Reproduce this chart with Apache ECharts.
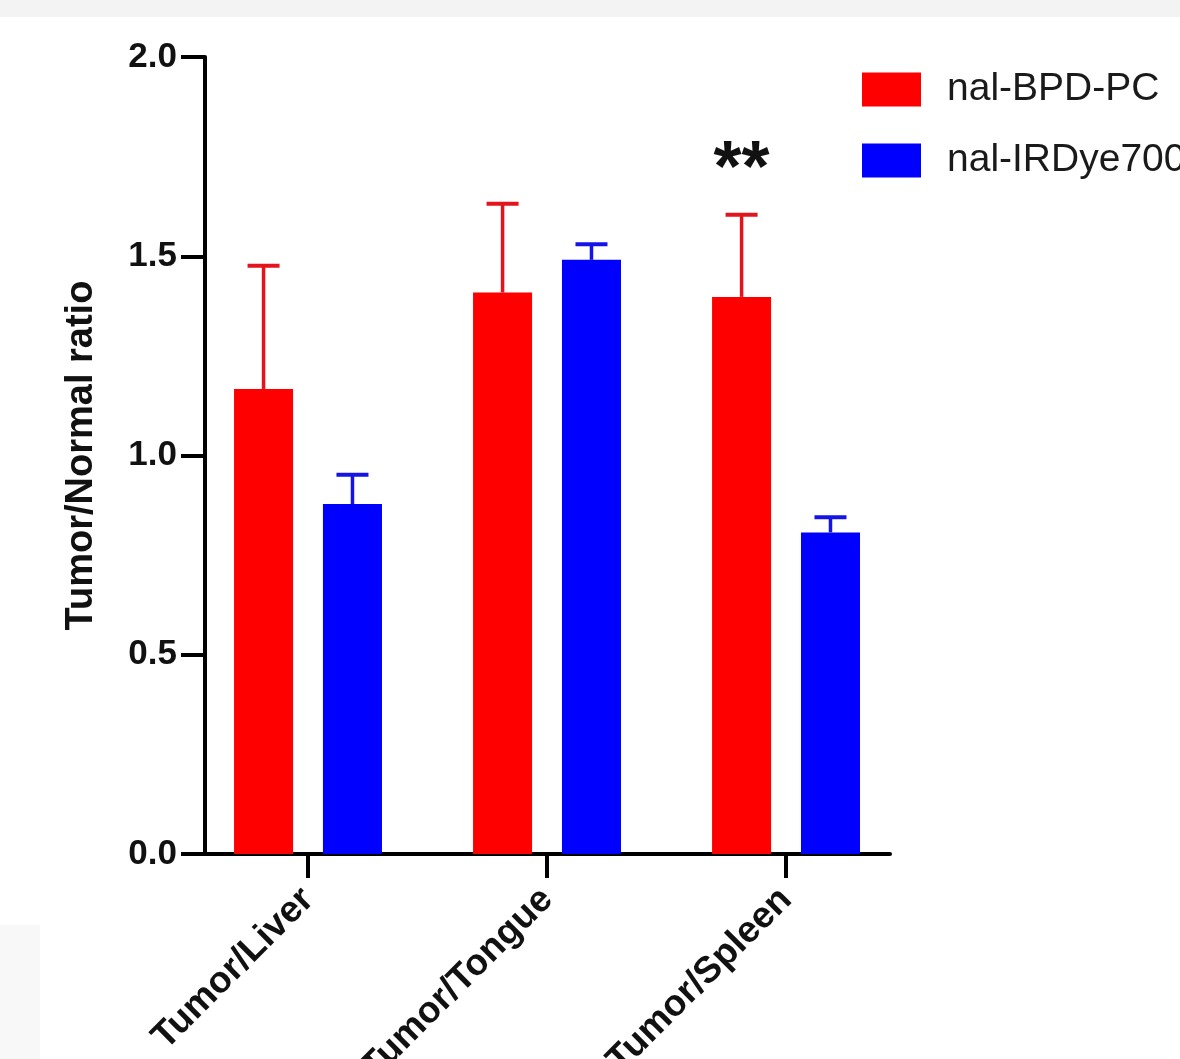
<!DOCTYPE html>
<html>
<head>
<meta charset="utf-8">
<script src="https://cdn.jsdelivr.net/npm/echarts@6/dist/echarts.min.js"></script>
<style>
  html, body { margin: 0; padding: 0; background: #ffffff; }
  #chart { width: 1180px; height: 1059px; }
</style>
</head>
<body>
<div id="chart"></div>
<script>
// ---- data ----
const categories = ['Tumor/Liver', 'Tumor/Tongue', 'Tumor/Spleen'];
const seriesNames = ['nal-BPD-PC', 'nal-IRDye700'];
const bpdValues = [1.167, 1.409, 1.398];
const bpdErrors = [0.309, 0.223, 0.206];
const irdValues = [0.878, 1.491, 0.807];
const irdErrors = [0.074, 0.039, 0.038];
const significance = ['', '', '**'];

// ---- style ----
const FONT = 'Arial, "Liberation Sans", Helvetica, sans-serif';
const RED = '#ff0000', BLUE = '#0000ff';
const RED_ERR = '#e3141c', BLUE_ERR = '#1414e6';
const BAR_W = 0.247;     // in category units
const BAR_OFF = 0.186;   // in category units

function buildData(vals, errs) {
  return vals.map((v, i) => [i + 1, v, errs[i], significance[i]]);
}

function makeRenderer(offset, fill, errColor, showSig) {
  return function (params, api) {
    const x = api.value(0), v = api.value(1), e = api.value(2);
    const unit = api.size([1, 0])[0];
    const base = api.coord([x, 0]);
    const top = api.coord([x, v]);
    const cap = api.coord([x, v + e]);
    const cx = base[0] + offset * unit;
    const bw = BAR_W * unit;
    const capHalf = 16;
    const children = [
      { type: 'rect', shape: { x: cx - bw / 2, y: top[1], width: bw, height: base[1] - top[1] },
        style: { fill: fill } },
      { type: 'line', shape: { x1: cx, y1: top[1], x2: cx, y2: cap[1] },
        style: { stroke: errColor, lineWidth: 3.5 } },
      { type: 'line', shape: { x1: cx - capHalf, y1: cap[1], x2: cx + capHalf, y2: cap[1] },
        style: { stroke: errColor, lineWidth: 4 } }
    ];
    const sig = showSig ? significance[params.dataIndex] : '';
    if (sig) {
      children.push({ type: 'text', x: cx, y: cap[1] - 44,
        style: { text: sig, fill: '#111', font: 'bold 72px ' + FONT, align: 'center', verticalAlign: 'middle' } });
    }
    return { type: 'group', children: children };
  };
}

const chart = echarts.init(document.getElementById('chart'), null, { renderer: 'canvas' });
chart.setOption({
  backgroundColor: '#ffffff',
  animation: false,
  graphic: [
    { type: 'rect', left: 0, top: 0, shape: { width: 1180, height: 17 }, style: { fill: '#f3f3f3' }, z: 0 },
    { type: 'rect', left: 0, top: 925, shape: { width: 40, height: 134 }, style: { fill: '#f8f8f8' }, z: 0 }
  ],
  legend: {
    orient: 'vertical', left: 862, top: 70, padding: 0,
    itemWidth: 59, itemHeight: 34, itemGap: 32, icon: 'rect',
    data: seriesNames,
    textStyle: { fontSize: 39, lineHeight: 34, color: '#1a1a1a', fontFamily: FONT, padding: [0, 0, 0, 21] }
  },
  grid: { left: 205, top: 57, width: 685, height: 797, containLabel: false, outerBoundsMode: 'none' },
  xAxis: {
    type: 'value', min: 0.569, max: 3.435,
    axisLine: { show: true, lineStyle: { color: '#000', width: 4 } },
    axisTick: { show: true, customValues: [1, 2, 3], length: 24, lineStyle: { color: '#000', width: 4 } },
    axisLabel: {
      customValues: [1, 2, 3], rotate: 45, margin: 40,
      formatter: v => categories[Math.round(v) - 1] || '',
      fontSize: 37, fontWeight: 'bold', color: '#111', fontFamily: FONT
    },
    splitLine: { show: false }
  },
  yAxis: {
    type: 'value', min: 0, max: 2, interval: 0.5,
    name: 'Tumor/Normal ratio', nameLocation: 'middle', nameGap: 104, nameRotate: 90,
    nameTextStyle: { fontSize: 38, fontWeight: 'bold', color: '#111', fontFamily: FONT },
    axisLine: { show: true, lineStyle: { color: '#000', width: 4 } },
    axisTick: { show: true, length: 24, lineStyle: { color: '#000', width: 4 } },
    axisLabel: {
      margin: 28, formatter: v => v.toFixed(1),
      fontSize: 35, fontWeight: 'bold', color: '#111', fontFamily: FONT
    },
    splitLine: { show: false }
  },
  series: [
    { name: seriesNames[0], type: 'custom', itemStyle: { color: RED },
      encode: { x: 0, y: 1 }, data: buildData(bpdValues, bpdErrors),
      renderItem: makeRenderer(-BAR_OFF, RED, RED_ERR, true) },
    { name: seriesNames[1], type: 'custom', itemStyle: { color: BLUE },
      encode: { x: 0, y: 1 }, data: buildData(irdValues, irdErrors),
      renderItem: makeRenderer(BAR_OFF, BLUE, BLUE_ERR, false) }
  ]
});
</script>
</body>
</html>
